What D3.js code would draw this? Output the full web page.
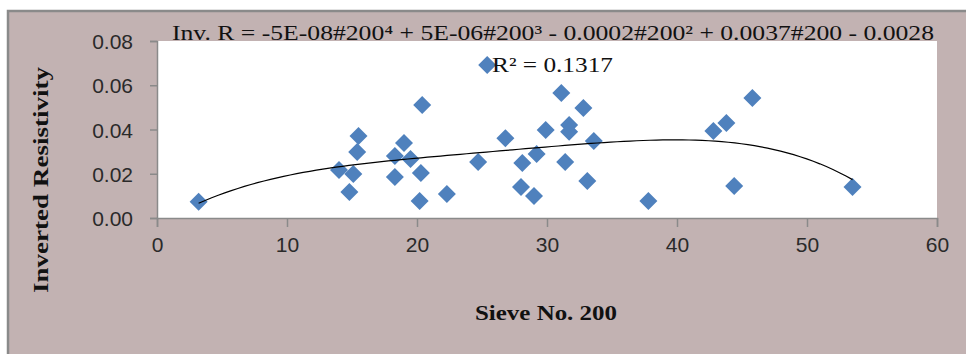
<!DOCTYPE html>
<html>
<head>
<meta charset="utf-8">
<script src="https://cdn.jsdelivr.net/npm/d3@7"></script>
<style>
  body { margin: 0; background: white; }
  svg { display: block; }
</style>
</head>
<body>
<div id="chart"></div>
<script>
// Sieve No. 200 vs inverted resistivity
var sieve = [3.2, 14.0, 15.5, 15.4, 15.1, 14.8, 18.3, 19.0, 19.5, 18.3,
             20.3, 20.2, 22.3, 24.7, 20.4, 25.4, 26.8, 29.9, 31.7, 31.7,
             33.6, 29.2, 28.1, 31.4, 33.1, 28.0, 29.0, 37.8, 31.1, 32.8,
             42.8, 43.8, 44.4, 45.8, 53.5];
var invR = [0.0074, 0.0217, 0.0371, 0.0298, 0.0199, 0.0118, 0.0280, 0.0339, 0.0267, 0.0185,
            0.0203, 0.0077, 0.0108, 0.0253, 0.0511, 0.0692, 0.0361, 0.0398, 0.0420, 0.0390,
            0.0348, 0.0289, 0.0249, 0.0253, 0.0167, 0.0140, 0.0100, 0.0077, 0.0565, 0.0497,
            0.0393, 0.0429, 0.0145, 0.0542, 0.0140];
var xTicks = [0, 10, 20, 30, 40, 50, 60];
var yTicks = [0, 0.02, 0.04, 0.06, 0.08];
var eqText = "Inv. R = -5E-08#200⁴ + 5E-06#200³ - 0.0002#200² + 0.0037#200 - 0.0028";
var r2Text = "R² = 0.1317";

var W = 966, H = 354;
var plot = {left: 157, top: 41, right: 937, bottom: 218};

var svg = d3.select("#chart")
  .append('svg')
  .attr('width', W)
  .attr('height', H);

// outer chart frame
svg.append('rect')
  .attr('x', 8).attr('y', 11)
  .attr('width', W + 10).attr('height', H + 10)
  .attr('fill', '#c2b2b2')
  .attr('stroke', '#8a8a8a')
  .attr('stroke-width', 2.5);

svg.append('rect')
  .attr('x', plot.left).attr('y', plot.top)
  .attr('width', plot.right - plot.left)
  .attr('height', plot.bottom - plot.top)
  .attr('fill', 'white');

var x = d3.scaleLinear().domain([0, 60]).range([plot.left, plot.right]);
var y = d3.scaleLinear().domain([0, 0.08]).range([plot.bottom, plot.top]);

var xAxis = svg.append('g')
  .attr('transform', 'translate(0,' + plot.bottom + ')')
  .call(d3.axisBottom(x).tickValues(xTicks).tickSize(9).tickPadding(6)
        .tickFormat(d3.format('d')));
var yAxis = svg.append('g')
  .attr('transform', 'translate(' + plot.left + ',0)')
  .call(d3.axisLeft(y).tickValues(yTicks).tickSize(7).tickPadding(17)
        .tickFormat(d3.format('.2f')));

[xAxis, yAxis].forEach(function(ax) {
  ax.selectAll('path, line').attr('stroke', '#8a8a8a').attr('stroke-width', 1.5);
  ax.selectAll('text')
    .attr('fill', '#2a2a2a')
    .style('font-family', '"Liberation Sans", Arial, sans-serif')
    .style('font-size', '21px');
});
xAxis.selectAll('text').attr('dy', '0.9em');
yAxis.selectAll('text').attr('dy', '0.36em');

// 4th order polynomial trend (least squares on the points)
function polyfit(xs, ys, deg) {
  var s = 50, n = deg + 1, A = [], b = [];
  for (var i = 0; i < n; i++) { A.push(new Array(n).fill(0)); b.push(0); }
  xs.forEach(function(xv, k) {
    var t = xv / s;
    for (var i = 0; i < n; i++) {
      b[i] += ys[k] * Math.pow(t, i);
      for (var j = 0; j < n; j++) A[i][j] += Math.pow(t, i + j);
    }
  });
  for (var c = 0; c < n; c++) {
    var p = c;
    for (var r = c + 1; r < n; r++) if (Math.abs(A[r][c]) > Math.abs(A[p][c])) p = r;
    var tmp = A[c]; A[c] = A[p]; A[p] = tmp;
    var tb = b[c]; b[c] = b[p]; b[p] = tb;
    for (var r = c + 1; r < n; r++) {
      var f = A[r][c] / A[c][c];
      for (var j = c; j < n; j++) A[r][j] -= f * A[c][j];
      b[r] -= f * b[c];
    }
  }
  var coef = new Array(n).fill(0);
  for (var i = n - 1; i >= 0; i--) {
    var sum = b[i];
    for (var j = i + 1; j < n; j++) sum -= A[i][j] * coef[j];
    coef[i] = sum / A[i][i];
  }
  return function(xv) {
    var t = xv / s, v = 0;
    for (var i = 0; i < n; i++) v += coef[i] * Math.pow(t, i);
    return v;
  };
}
var fit = polyfit(sieve, invR, 4);
var xMin = d3.min(sieve), xMax = d3.max(sieve);
var curve = d3.range(0, 101).map(function(i) {
  var xv = xMin + (xMax - xMin) * i / 100;
  return [xv, fit(xv)];
});

svg.append('g').selectAll('path')
  .data(sieve)
  .enter()
  .append('path')
  .attr('transform', function(d, i) { return 'translate(' + x(d) + ',' + y(invR[i]) + ')'; })
  .attr('d', 'M0,-9L9,0L0,9L-9,0Z')
  .attr('fill', '#4f81bd');

svg.append('path')
  .datum(curve)
  .attr('fill', 'none')
  .attr('stroke', 'black')
  .attr('stroke-width', 1.2)
  .attr('d', d3.line().x(function(d) { return x(d[0]); }).y(function(d) { return y(d[1]); }));

svg.append('text')
  .attr('x', 172).attr('y', 40)
  .attr('textLength', 762).attr('lengthAdjust', 'spacingAndGlyphs')
  .style('font-family', '"Liberation Serif", "Times New Roman", serif')
  .style('font-size', '21px')
  .attr('fill', '#111')
  .text(eqText);

svg.append('text')
  .attr('x', 492).attr('y', 72)
  .attr('textLength', 121).attr('lengthAdjust', 'spacingAndGlyphs')
  .style('font-family', '"Liberation Serif", "Times New Roman", serif')
  .style('font-size', '22px')
  .attr('fill', '#111')
  .text(r2Text);

svg.append('text')
  .attr('x', 546).attr('y', 320)
  .attr('text-anchor', 'middle')
  .attr('textLength', 142).attr('lengthAdjust', 'spacingAndGlyphs')
  .style('font-family', '"Liberation Serif", "Times New Roman", serif')
  .style('font-weight', 'bold')
  .style('font-size', '21px')
  .attr('fill', '#111')
  .text('Sieve No. 200');

svg.append('text')
  .attr('transform', 'translate(48,180) rotate(-90)')
  .attr('text-anchor', 'middle')
  .attr('textLength', 226).attr('lengthAdjust', 'spacingAndGlyphs')
  .style('font-family', '"Liberation Serif", "Times New Roman", serif')
  .style('font-weight', 'bold')
  .style('font-size', '21px')
  .attr('fill', '#111')
  .text('Inverted Resistivity');
</script>
</body>
</html>
